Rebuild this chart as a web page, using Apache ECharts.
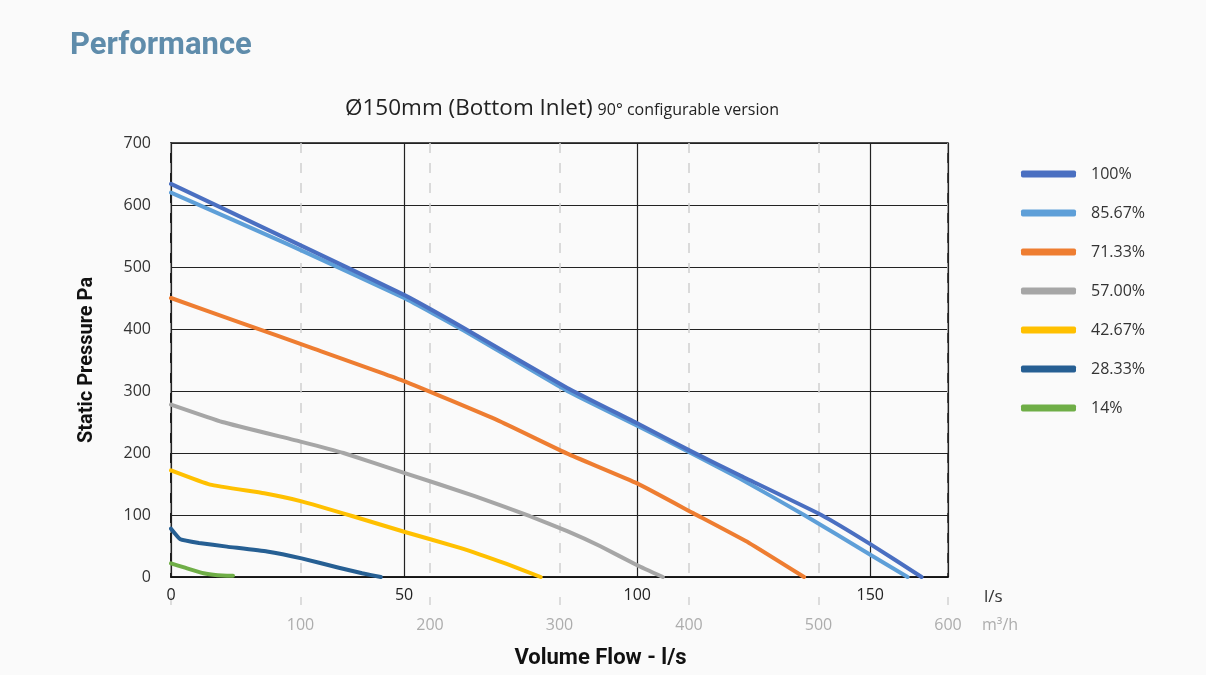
<!DOCTYPE html>
<html>
<head>
<meta charset="utf-8">
<script src="https://cdn.jsdelivr.net/npm/echarts@6/dist/echarts.min.js"></script>
<style>
html,body{margin:0;padding:0;background:#fafafa;}
#chart{width:1206px;height:675px;}
</style>
</head>
<body>
<div id="chart"></div>
<script>
// Tick labels
const lsTicks = [0, 50, 100, 150];
const m3hTicks = [100, 200, 300, 400, 500, 600];
const paTicks = [0, 100, 200, 300, 400, 500, 600, 700];

// Series names
const seriesNames = ['100%', '85.67%', '71.33%', '57.00%', '42.67%', '28.33%', '14%'];

// Series values: [flow l/s, static pressure Pa]
const s100 = [[0,634],[25,545],[50,455],[62.7,402],[85,305],[100,248],[111.5,203],[122,164],[139.5,100],[150,53],[161,0]];
const s8567 = [[0,620],[25,537],[50,450],[62.7,398],[85,300],[100,244],[111.5,200],[122,159],[135.8,100],[150,36],[158,0]];
const s7133 = [[0,450],[15,410],[30,370],[50,316],[70,253],[85,199],[100,151],[112,103],[124,55],[135.8,0]];
const s5700 = [[0,278],[11,250],[28,218],[37,200],[50,168],[65,131],[77,98],[85,74],[92,50],[100,19],[105.5,0]];
const s4267 = [[0,172],[8.4,149],[20,135],[28,122],[39,98],[50,73],[62,47],[72,21],[79.3,0]];
const s2833 = [[0,78],[2,61],[6,55],[12,49],[20.6,41],[28,30],[36,15],[41,6],[45,0]];
const s1400 = [[0,22],[3,15],[7,6],[10,3],[13.3,2]];

const seriesData = [s100, s8567, s7133, s5700, s4267, s2833, s1400];
const colors = ['#4a6fc1', '#5e9fd8', '#ee7d31', '#a6a6a6', '#ffc000', '#265f93', '#6fae47'];

const chart = echarts.init(document.getElementById('chart'));
const condensed = "'Roboto', 'Lato', sans-serif";
const body = "'Open Sans', 'Noto Sans', sans-serif";

const option = {
  backgroundColor: '#fafafa',
  animation: false,
  title: [
    {
      text: 'Performance',
      left: 65, top: 26,
      textStyle: { fontFamily: condensed, fontWeight: 'bold', fontSize: 31, color: '#5f8cab' }
    },
    {
      text: '{a|Ø150mm (Bottom Inlet)} {b|90° configurable version}',
      left: 340, top: 92,
      textStyle: {
        rich: {
          a: { fontFamily: body, fontWeight: 'normal', fontSize: 22.5, color: '#222' },
          b: { fontFamily: body, fontWeight: 'normal', fontSize: 16, color: '#222', padding: [4,0,0,0] }
        }
      }
    }
  ],
  legend: {
    orient: 'vertical',
    left: 1016, top: 159,
    itemWidth: 55, itemHeight: 7,
    itemGap: 19,
    data: seriesNames.map(n => ({ name: n, icon: 'roundRect' })),
    textStyle: { fontFamily: body, fontSize: 16, color: '#333', lineHeight: 20, padding: [0,0,0,10] }
  },
  grid: {
    left: 171, top: 143, width: 777, height: 434,
    show: true, borderColor: '#111', borderWidth: 1.5, backgroundColor: 'transparent'
  },
  xAxis: [
    {
      type: 'value', min: 0, max: 600 / 3.6, interval: 50, position: 'bottom',
      axisLine: { show: true, lineStyle: { color: '#111', width: 1.5 } },
      axisTick: { show: false },
      splitLine: { show: true, lineStyle: { color: '#222', width: 1.2 } },
      axisLabel: {
        fontFamily: body, fontSize: 16, color: '#222', margin: 10,
        formatter: v => lsTicks.includes(v) ? String(v) : ''
      },
      name: 'l/s', nameLocation: 'end', nameGap: 36,
      nameTextStyle: { fontFamily: body, fontSize: 17, color: '#333', verticalAlign: 'top', lineHeight: 40 },
      z: 3
    },
    {
      type: 'value', min: 0, max: 600, interval: 100, position: 'bottom', offset: 20,
      axisLine: { show: false },
      axisTick: { show: true, length: 8, lineStyle: { color: '#d2d2d2', width: 1.5 } },
      splitLine: { show: true, lineStyle: { color: '#d0d0d0', width: 1.5, type: [10, 10] } },
      axisLabel: {
        fontFamily: body, fontSize: 16, color: '#adadad', margin: 20,
        formatter: v => m3hTicks.includes(v) ? String(v) : ''
      },
      name: 'm³/h', nameLocation: 'end', nameGap: 34,
      nameTextStyle: { fontFamily: body, fontSize: 16, color: '#adadad', verticalAlign: 'top', lineHeight: 56 },
      z: 1
    },
    {
      type: 'value', min: 0, max: 600, position: 'bottom',
      axisLine: { show: false }, axisTick: { show: false }, axisLabel: { show: false }, splitLine: { show: false },
      name: 'Volume Flow - l/s', nameLocation: 'middle', nameGap: 70,
      nameTextStyle: { fontFamily: condensed, fontWeight: 'bold', fontSize: 22, color: '#111', padding: [0,0,0,82] }
    }
  ],
  yAxis: {
    type: 'value', min: 0, max: 700, interval: 100,
    axisLine: { show: true, lineStyle: { color: '#111', width: 1.5 } },
    axisTick: { show: false },
    splitLine: { show: true, lineStyle: { color: '#222', width: 1.2 } },
    axisLabel: {
      fontFamily: body, fontSize: 16, color: '#333', margin: 20,
      formatter: v => paTicks.includes(v) ? String(v) : ''
    },
    name: 'Static Pressure Pa', nameLocation: 'middle', nameGap: 74,
    nameTextStyle: { fontFamily: condensed, fontWeight: 'bold', fontSize: 20, color: '#111' }
  },
  series: seriesNames.map((n, i) => ({
    name: n, type: 'line', xAxisIndex: 0, data: seriesData[i],
    showSymbol: false, smooth: 0.12,
    lineStyle: { width: 4, color: colors[i], cap: 'round', join: 'round' },
    itemStyle: { color: colors[i] },
    z: 10 - i
  }))
};
chart.setOption(option);
</script>
</body>
</html>
